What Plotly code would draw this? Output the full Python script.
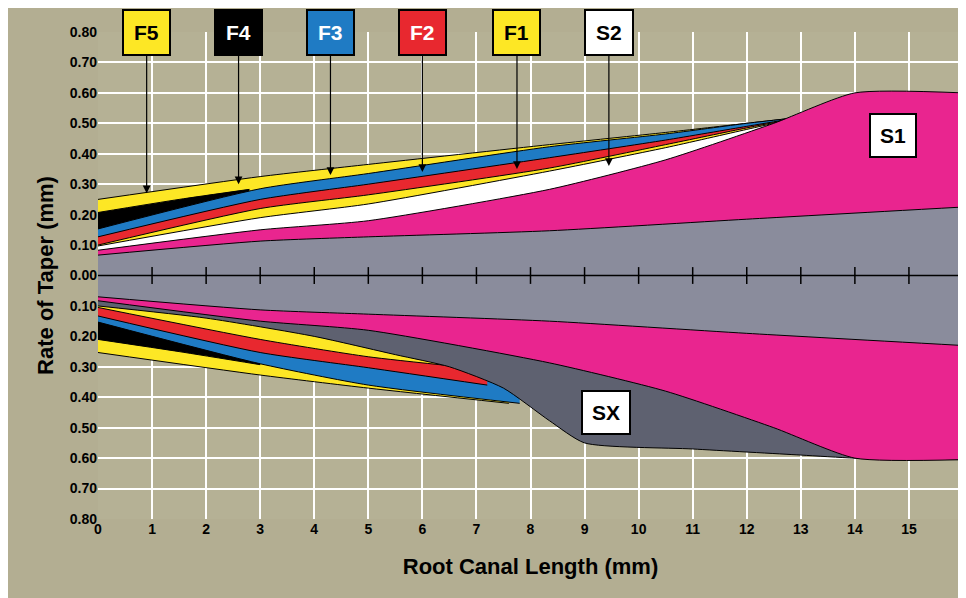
import plotly.graph_objects as go

# Upper half (positive = upper radius profile)
xu = [0, 3, 5, 8.35, 10.5, 12, 13]
F5_u = [0.25, 0.325, 0.365, 0.43, 0.47, 0.50, 0.52]
F3_u = [0.153, 0.285, 0.335, 0.423, 0.465, 0.50, 0.52]
F2_u = [0.127, 0.25, 0.30, 0.387, 0.445, 0.49, 0.52]
F1_u = [0.10, 0.22, 0.265, 0.353, 0.43, 0.485, 0.52]
S2_u = [0.097, 0.19, 0.235, 0.343, 0.42, 0.48, 0.52]
xf4 = [0, 1.5, 2.8]
F4_u = [0.207, 0.25, 0.283]
xs1 = [0, 3, 5, 8.35, 10.5, 12.5, 14, 16]
S1_u = [0.083, 0.15, 0.18, 0.283, 0.38, 0.5, 0.6, 0.6]
xg = [0, 3, 5, 8.35, 12, 16]
G_u = [0.067, 0.113, 0.127, 0.147, 0.185, 0.225]

# Lower half (magnitudes)
xf5l = [0, 3, 5, 7.6]; F5_l = [0.253, 0.327, 0.37, 0.42]
xf4l = [0, 1.5, 3]; F4_l = [0.21, 0.25, 0.293]
xf3l = [0, 3, 5, 7.8]; F3_l = [0.153, 0.29, 0.36, 0.42]
xf2l = [0, 3, 5, 7.2]; F2_l = [0.133, 0.253, 0.303, 0.36]
xf1l = [0, 3, 5, 6.7]; F1_l = [0.105, 0.21, 0.267, 0.30]
xsx = [0, 2, 4, 5.5, 6.5, 7.5, 8.35, 9, 11, 13, 14, 16]
SX_l = [0.10, 0.14, 0.20, 0.26, 0.30, 0.37, 0.477, 0.55, 0.57, 0.59, 0.60, 0.605]
xs1l = [0, 3, 5, 8.35, 10.5, 12.5, 14, 16]
S1_l = [0.083, 0.15, 0.18, 0.287, 0.38, 0.5, 0.6, 0.605]
G_l = [0.07, 0.113, 0.127, 0.15, 0.19, 0.23]

labels = ["F5", "F4", "F3", "F2", "F1", "S2"]
label_x = [0.9, 2.6, 4.3, 6.0, 7.75, 9.45]
arrow_y = [0.27, 0.30, 0.33, 0.34, 0.35, 0.36]

YEL, BLK, BLU, RED, WHT, PNK = "#fde725", "#000000", "#1f7bc4", "#e8282f", "#ffffff", "#e9258f"
GRAY, DGRAY = "#8a8c9c", "#5e6170"
label_bg = [YEL, BLK, BLU, RED, YEL, WHT]
label_fc = ["black", "white", "white", "white", "black", "black"]

fig = go.Figure()
def band(x, y, color, sign=1):
    fig.add_trace(go.Scatter(x=x, y=[sign * v for v in y], mode="lines", fill="tozeroy",
                             fillcolor=color, line=dict(color="black", width=1, shape="spline", smoothing=0.6),
                             showlegend=False, hoverinfo="skip"))

for x, y, c in [(xu, F5_u, YEL), (xf4, F4_u, BLK), (xu, F3_u, BLU), (xu, F2_u, RED),
                (xu, F1_u, YEL), (xu, S2_u, WHT), (xs1, S1_u, PNK), (xg, G_u, GRAY)]:
    band(x, y, c, 1)
for x, y, c in [(xf5l, F5_l, YEL), (xf4l, F4_l, BLK), (xf3l, F3_l, BLU), (xf2l, F2_l, RED),
                (xf1l, F1_l, YEL), (xsx, SX_l, DGRAY), (xs1l, S1_l, PNK), (xg, G_l, GRAY)]:
    band(x, y, c, -1)

fig.add_trace(go.Scatter(x=list(range(1, 16)), y=[0] * 15, mode="markers",
                         marker=dict(symbol="line-ns", size=12, line=dict(color="black", width=1.5)),
                         showlegend=False, hoverinfo="skip"))
fig.add_shape(type="line", x0=0, x1=16, y0=0, y1=0, line=dict(color="black", width=1.5))

for t, lx, ay, bg, fc in zip(labels, label_x, arrow_y, label_bg, label_fc):
    fig.add_annotation(x=lx, y=ay, ax=lx, ay=0.8, axref="x", ayref="y", text="<b>" + t + "</b>",
                       showarrow=True, arrowhead=2, arrowsize=1.3, arrowwidth=1.2, arrowcolor="black",
                       bgcolor=bg, bordercolor="black", borderwidth=2, borderpad=10,
                       font=dict(size=21, color=fc, family="Liberation Sans"))
for t, lx, ly in [("S1", 14.7, 0.46), ("SX", 9.4, -0.45)]:
    fig.add_annotation(x=lx, y=ly, text="<b>" + t + "</b>", showarrow=False, bgcolor="white",
                       bordercolor="black", borderwidth=2, borderpad=9,
                       font=dict(size=21, color="black", family="Liberation Sans"))

yt = [round(-0.8 + 0.1 * i, 1) for i in range(17)]
fig.update_layout(
    width=958, height=590, margin=dict(l=90, r=3, t=24, b=79),
    paper_bgcolor="#b3ae92", plot_bgcolor="#b5b195",
    font=dict(family="Liberation Sans", color="black"),
    xaxis=dict(range=[0, 16], dtick=1, gridcolor="white", gridwidth=1.5, zeroline=False,
               tickfont=dict(size=14), showline=False, automargin=False,
               title=dict(text="<b>Root Canal Length (mm)</b>", font=dict(size=22), standoff=22)),
    yaxis=dict(range=[-0.8, 0.8], tickvals=yt, ticktext=[f"<b>{abs(v):.2f}</b>" for v in yt],
               gridcolor="white", gridwidth=1.5, zeroline=False, tickfont=dict(size=14), automargin=False,
               title=dict(text="<b>Rate of Taper (mm)</b>", font=dict(size=22), standoff=10)),
)
fig.update_xaxes(tickprefix="<b>", ticksuffix="</b>")
fig.write_html("out.html")
